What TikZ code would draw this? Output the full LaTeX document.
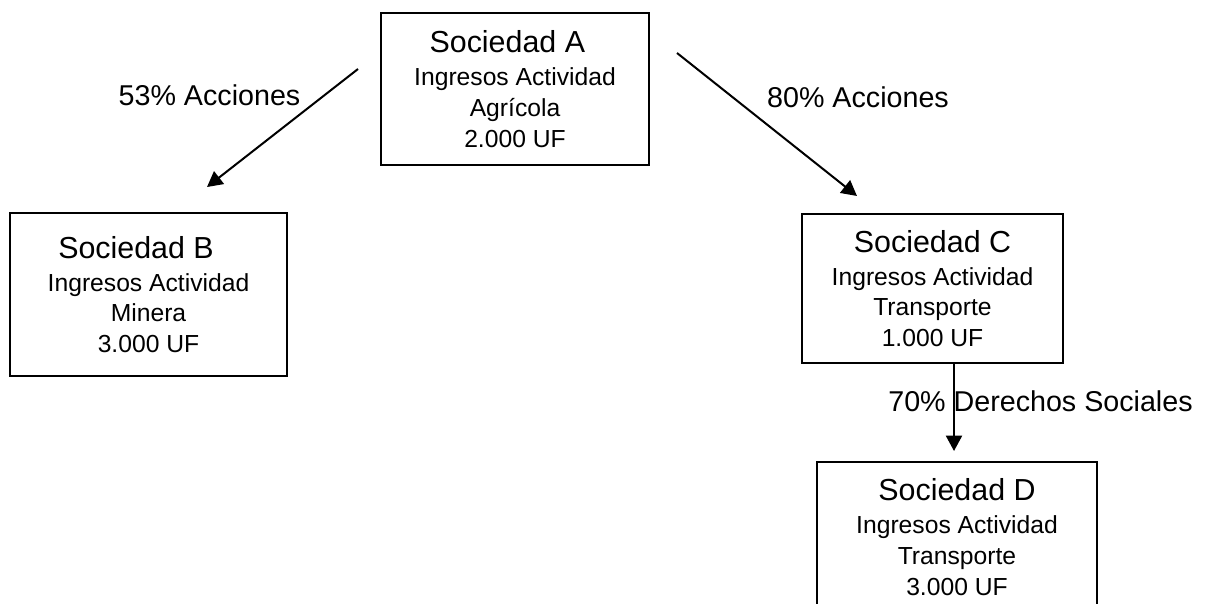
\documentclass[tikz,border=0pt]{standalone}
\usepackage{fontspec}
\setmainfont{Liberation Sans}
\usetikzlibrary{arrows.meta}
\newcommand\bodyfont{\fontsize{18.5}{23}\selectfont}
\newcommand\ttlfont{\fontsize{22.8}{24}\selectfont}
\newcommand\labfont{\fontsize{21.5}{24}\selectfont}
\tikzset{
  box/.style={draw, line width=1.5pt, inner sep=0pt, align=center, font=\bodyfont},
  lab/.style={font=\labfont, inner sep=0pt, anchor=base},
  arr/.style={line width=1.5pt, -{Triangle[length=11.5pt,width=12pt]}},
}
\begin{document}
\begin{tikzpicture}[x=0.75pt,y=-0.75pt]
\useasboundingbox (0,0) rectangle (1209,603);
\clip (0,0) rectangle (1209,603);
\node[box, minimum width=201pt, minimum height=114pt] (A) at (515,89)
  {{\ttlfont Sociedad A\hspace*{11.5pt}}\\[1.75pt] Ingresos Actividad\\ Agrícola\\ 2.000 UF};
\node[box, minimum width=207.75pt, minimum height=122.25pt] (B) at (148.5,294.5)
  {{\ttlfont Sociedad B\hspace*{18.75pt}}\\[1.75pt] Ingresos Actividad\\ Minera\\ 3.000 UF};
\node[box, minimum width=195.75pt, minimum height=111.75pt] (C) at (932.5,288.5)
  {{\ttlfont Sociedad C}\\[1.75pt] Ingresos Actividad\\ Transporte\\ 1.000 UF};
\node[box, minimum width=210pt, minimum height=112.5pt] (D) at (957,537)
  {{\ttlfont Sociedad D}\\[1.75pt] Ingresos Actividad\\ Transporte\\ 3.000 UF};
\node[lab] (l1) at (209.5,105) {53\% Acciones};
\node[lab] (l2) at (858,107) {80\% Acciones};
\node[lab] (l3) at (1040.5,411) {70\% Derechos Sociales};
\coordinate (a1) at (358,69);
\coordinate (b1) at (207,187);
\coordinate (a2) at (677,53);
\coordinate (c1) at (857,196);
\coordinate (c2) at (954,363);
\coordinate (d1) at (954,451);
\draw[arr] (a1) -- (b1);
\draw[arr] (a2) -- (c1);
\draw[arr] (c2) -- (d1);
\end{tikzpicture}
\end{document}
